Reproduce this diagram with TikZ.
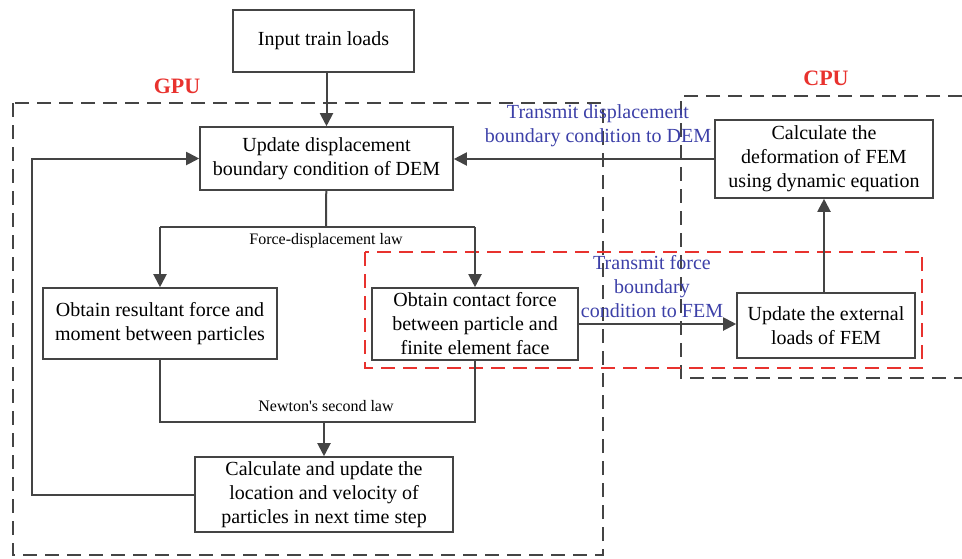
\documentclass[tikz,border=0pt]{standalone}
\usepackage{fontspec}
\setmainfont{Liberation Serif}
\usepackage{xcolor}
\usepackage{tikz}
\usetikzlibrary{arrows.meta}
\definecolor{lineg}{HTML}{444444}
\definecolor{labred}{HTML}{E8322E}
\definecolor{labblue}{HTML}{3C40A8}
\tikzset{
  stepbox/.style={draw=lineg, line width=0.8pt, fill=white, align=center,
    inner sep=2pt, font=\fontsize{10}{12}\selectfont},
  flow/.style={draw=lineg, line width=1pt, -{Triangle[length=6.5pt,width=6.5pt]}},
  link/.style={draw=lineg, line width=1pt},
  zone/.style={line width=0.9pt, dash pattern=on 7pt off 4pt},
  lawlab/.style={font=\fontsize{8}{9}\selectfont},
  xferlab/.style={text=labblue, align=center, font=\fontsize{10}{12}\selectfont},
  unitlab/.style={text=labred, font=\fontsize{11}{12}\selectfont\bfseries}
}
\newcommand{\pbox}[5]{%
  \node[stepbox, minimum width=#3*0.5pt, minimum height=#4*0.5pt] (#1) at #2 {#5};}

\begin{document}
\begin{tikzpicture}[x=0.5pt, y=-0.5pt]
  \useasboundingbox (0,0) rectangle (962,558);
  % the two processor zones; the CPU one runs off the right edge
  \draw[zone, lineg] (13,103) rectangle (603,555);
  \draw[zone, lineg] (962,96) -- (681,96) -- (681,378) -- (962,378);
  \draw[zone, labred] (365,252) rectangle (922,368);
  \node[unitlab] (gpu) at (177,86) {GPU};
  \node[unitlab] (cpu) at (826,78) {CPU};

  \pbox{input}{(323.5,41)}{181}{62}{Input train loads}
  \pbox{upd}{(326.5,158.5)}{253}{63}{Update displacement\\boundary condition of DEM}
  \pbox{defo}{(824,159)}{218}{78}{Calculate the\\deformation of FEM\\using dynamic equation}
  \pbox{res}{(160,323.5)}{234}{71}{Obtain resultant force and\\moment between particles}
  \pbox{cont}{(475,324)}{206}{72}{Obtain contact force\\between particle and\\finite element face}
  \pbox{ext}{(826,325.5)}{178}{65}{Update the external\\loads of FEM}
  \pbox{calc}{(324,494.5)}{258}{75}{Calculate and update the\\location and velocity of\\particles in next time step}

  \coordinate (fd) at (326,227);
  \coordinate (nw) at (324,422);

  \draw[flow] (input.south -| upd.north) -- (upd.north);
  \draw[link] (upd) -- (fd);
  \draw[link] (res.north |- fd) -- (cont.north |- fd);
  \draw[flow] (res.north |- fd) -- (res.north);
  \draw[flow] (cont.north |- fd) -- (cont.north);
  \node[lawlab] (fdlab) at (326,241) {Force-displacement law};

  \draw[link] (res.south) |- (nw) -| (cont.south);
  \draw[flow] (nw) -- (calc.north);
  \node[lawlab] (nwlab) at (326,406) {Newton\textquotesingle s second law};

  % feedback to the start of the next step
  \draw[flow] (calc.west) -- ++(-162,0) |- (upd.west);

  \draw[flow] (cont.east) -- (cont.east -| ext.west);
  \draw[flow] (ext.north -| defo.south) -- (defo.south);
  \draw[flow] (defo.west) -- (defo.west -| upd.east);

  \node[xferlab] (dlab) at (598,126) {Transmit displacement\\boundary condition to DEM};
  \node[xferlab] (flab) at (652,287) {Transmit force\\boundary\\condition to FEM};
\end{tikzpicture}
\end{document}
